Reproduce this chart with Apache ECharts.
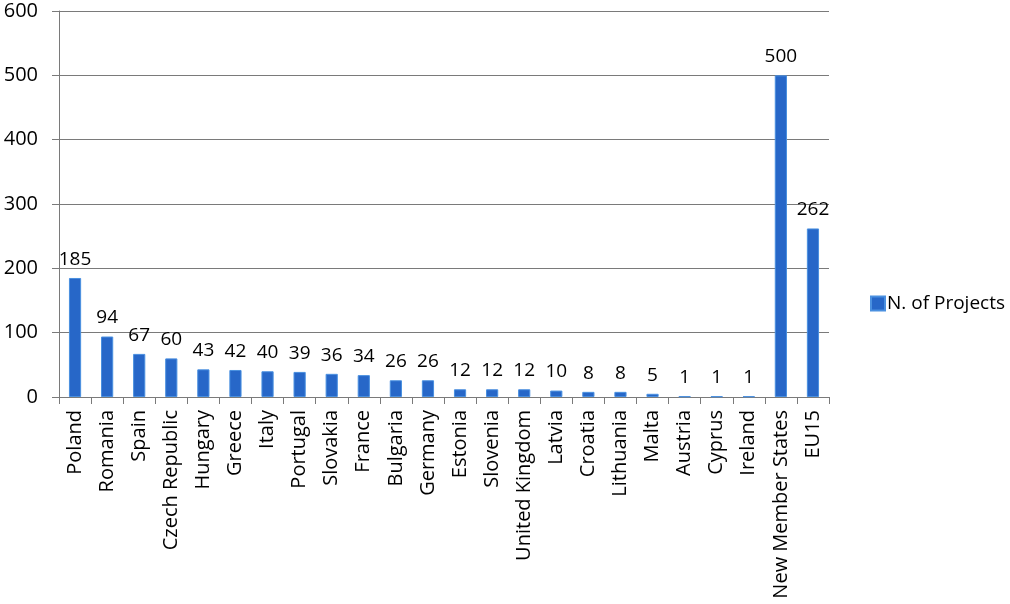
<!DOCTYPE html>
<html>
<head>
<meta charset="utf-8">
<script src="https://cdn.jsdelivr.net/npm/echarts@6/dist/echarts.min.js"></script>
<style>
  html, body { margin: 0; padding: 0; background: #fff; }
  #chart { width: 1010px; height: 604px; }
</style>
</head>
<body>
<div id="chart"></div>
<script>
// categories and values
const countries = ['Poland', 'Romania', 'Spain', 'Czech Republic', 'Hungary', 'Greece', 'Italy',
  'Portugal', 'Slovakia', 'France', 'Bulgaria', 'Germany', 'Estonia', 'Slovenia', 'United Kingdom',
  'Latvia', 'Croatia', 'Lithuania', 'Malta', 'Austria', 'Cyprus', 'Ireland', 'New Member States', 'EU15']
const projects = [185, 94, 67, 60, 43, 42, 40, 39, 36, 34, 26, 26, 12, 12, 12, 10, 8, 8, 5, 1, 1, 1, 500, 262]
const yTicks = [0, 100, 200, 300, 400, 500, 600]

const fontFamily = '"Open Sans", "Noto Sans", sans-serif'
const chart = echarts.init(document.getElementById('chart'))

const option = {
  animation: false,
  textStyle: { fontFamily: fontFamily },
  grid: { left: 59, right: 181, top: 11, bottom: 207, containLabel: false },
  legend: {
    left: 865,
    top: 289,
    orient: 'vertical',
    itemWidth: 14,
    itemHeight: 14,
    itemGap: 4,
    icon: 'rect',
    textStyle: { fontSize: 19, color: '#000', fontFamily: fontFamily, padding: [0, 0, 0, -3] },
    data: ['N. of Projects']
  },
  xAxis: {
    type: 'category',
    data: countries,
    axisLine: { lineStyle: { color: '#7a7a7a', width: 1 } },
    axisTick: { show: true, alignWithLabel: false, length: 7, lineStyle: { color: '#7a7a7a' } },
    axisLabel: {
      interval: 0,
      rotate: 90,
      margin: 13,
      fontSize: 20,
      color: '#000',
      fontFamily: fontFamily
    }
  },
  yAxis: {
    type: 'value',
    min: yTicks[0],
    max: yTicks[yTicks.length - 1],
    interval: 100,
    axisLine: { show: true, lineStyle: { color: '#7a7a7a' } },
    axisTick: { show: true, length: 7, lineStyle: { color: '#7a7a7a' } },
    splitLine: { lineStyle: { color: '#7a7a7a', width: 1.2 } },
    axisLabel: { fontSize: 20, color: '#000', margin: 21, fontFamily: fontFamily }
  },
  series: [
    {
      name: 'N. of Projects',
      type: 'bar',
      data: projects,
      barWidth: '38%',
      itemStyle: { color: '#2767C8', borderColor: '#4A90E0', borderWidth: 1 },
      label: {
        show: true,
        position: 'top',
        distance: 9,
        fontSize: 19,
        color: '#000',
        fontFamily: fontFamily
      }
    }
  ]
}

chart.setOption(option)
window.addEventListener('resize', () => chart.resize())
</script>
</body>
</html>
